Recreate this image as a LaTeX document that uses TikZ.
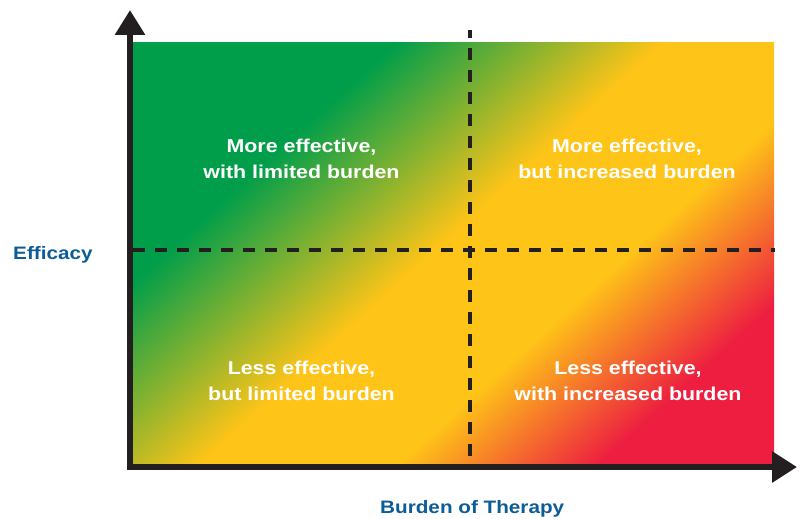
\documentclass[tikz,border=0pt]{standalone}
\usepackage{fontspec}
\setmainfont{Liberation Sans}
\newfontfamily\labfont[FakeStretch=1.15]{Liberation Sans}
\usetikzlibrary{arrows.meta}
\definecolor{cg}{RGB}{0,158,74}
\definecolor{cy}{RGB}{254,196,24}
\definecolor{cr}{RGB}{237,30,64}
\definecolor{axisc}{RGB}{35,31,32}
\definecolor{labblue}{RGB}{12,92,150}
\pgfdeclarehorizontalshading{quadgrad}{100bp}{color(0bp)=(cg); color(36bp)=(cg); color(48.9bp)=(cy); color(58.5bp)=(cy); color(68.3bp)=(cr); color(100bp)=(cr)}
\tikzset{
  quadlabel/.style={text=white, align=center, inner sep=0pt,
    font=\labfont\bfseries\fontsize{18.6}{26}\selectfont},
  axislabel/.style={text=labblue, inner sep=0pt,
    font=\labfont\bfseries\fontsize{18}{22}\selectfont},
  axisline/.style={line width=6pt, draw=axisc, line join=miter,
    {Triangle[length=25pt,width=29pt]}-{Triangle[length=25pt,width=30pt]}},
  divider/.style={line width=4.5pt, draw=axisc, dash pattern=on 12pt off 10pt}
}
\begin{document}
\begin{tikzpicture}[x=1pt,y=-1pt]
\useasboundingbox (0,0) rectangle (806,519);
\begin{scope}
  \clip (133,43) rectangle (774,464);
  \shade[shading=quadgrad, shading angle=-47.7] (103.5,-96.5) rectangle (803.5,603.5);
\end{scope}
\node[quadlabel] (tl) at (301.5,159) {More effective,\\with limited burden};
\node[quadlabel] (tr) at (627,159) {More effective,\\but increased burden};
\node[quadlabel] (bl) at (301.5,381) {Less effective,\\but limited burden};
\node[quadlabel] (br) at (628,381) {Less effective,\\with increased burden};
\node[axislabel, anchor=base west] (ylab) at (13,259) {Efficacy};
\node[axislabel, anchor=base west] (xlab) at (380,513) {Burden of Therapy};
\coordinate (vtop) at (470,30);
\coordinate (vbot) at (470,464);
\coordinate (hleft) at (133,250);
\coordinate (hright) at (775,250);
\draw[divider, dash phase=4pt] (vtop) -- (vbot);
\draw[divider] (hleft) -- (hright);
\coordinate (ytip) at (130,10);
\coordinate (origin) at (130,467);
\coordinate (xtip) at (797,467);
\draw[axisline] (ytip) -- (origin) -- (xtip);
\end{tikzpicture}
\end{document}
